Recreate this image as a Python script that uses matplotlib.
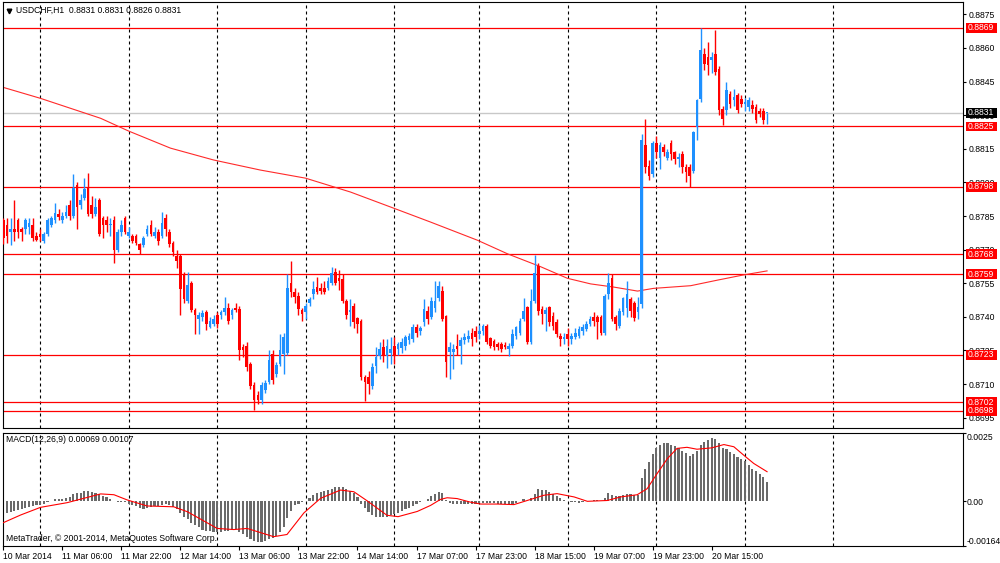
import matplotlib
matplotlib.use("Agg")
import matplotlib.pyplot as plt
import matplotlib.transforms as mtransforms
from matplotlib.patches import Rectangle
import numpy as np

plt.rcParams['font.family'] = ['Liberation Sans', 'DejaVu Sans']

# ------------------------------------------------------------------ #
#  Data (USDCHF H1)                          #
# ------------------------------------------------------------------ #

bar_open = [
    0.8783, 0.8781, 0.8778, 0.8779, 0.8783, 0.8779, 0.8779, 0.8780, 0.8781, 0.8776,
    0.8777, 0.8774, 0.8777, 0.8781, 0.8783, 0.8786, 0.8783, 0.8785, 0.8790, 0.8785,
    0.8799, 0.8790, 0.8793, 0.8798, 0.8790, 0.8786, 0.8792, 0.8784, 0.8783, 0.8781,
    0.8783, 0.8770, 0.8778, 0.8784, 0.8776, 0.8776, 0.8776, 0.87725, 0.8772, 0.8777,
    0.8781, 0.8776, 0.8778, 0.8776, 0.8784, 0.8778, 0.8773, 0.8767, 0.8767, 0.8759,
    0.8747, 0.8755, 0.8743, 0.8739, 0.8740, 0.8742, 0.87355, 0.8737, 0.8741, 0.8741,
    0.8742, 0.8744, 0.8741, 0.8744, 0.87435, 0.87266, 0.8727, 0.8719, 0.87096, 0.8705,
    0.8703, 0.87073, 0.8711, 0.87236, 0.87147, 0.8719, 0.87236, 0.8724, 0.8755, 0.8751,
    0.87495, 0.8743, 0.8742, 0.8746, 0.8750, 0.87534, 0.8753, 0.8753, 0.8753, 0.8755,
    0.8760, 0.87575, 0.8757, 0.8747, 0.8742, 0.8745, 0.87395, 0.8738, 0.8713, 0.8713,
    0.8709, 0.8718, 0.87227, 0.87264, 0.87227, 0.8724, 0.8727, 0.87255, 0.8726, 0.8727,
    0.87296, 0.8730, 0.87356, 0.87338, 0.87375, 0.87427, 0.8740, 0.8744, 0.87486, 0.87516,
    0.87405, 0.87242, 0.87242, 0.87272, 0.87272, 0.87295, 0.8730, 0.8733, 0.87338, 0.87324,
    0.87338, 0.8736, 0.87304, 0.87294, 0.8728, 0.8728, 0.87276, 0.87257, 0.87272, 0.87316,
    0.8733, 0.8739, 0.87442, 0.8729, 0.8747, 0.87626, 0.87435, 0.87412, 0.87442, 0.87405,
    0.87375, 0.87316, 0.87301, 0.87323, 0.8730, 0.8731, 0.87316, 0.87335, 0.87346, 0.87368,
    0.87398, 0.87398, 0.87398, 0.8733, 0.8750, 0.87575, 0.87398, 0.8736, 0.8742, 0.8744,
    0.87479, 0.8746, 0.8742, 0.87456, 0.88165, 0.88075, 0.88038, 0.88178, 0.88108, 0.88157,
    0.8811, 0.88178, 0.88135, 0.88105, 0.88127, 0.88068, 0.88068, 0.88053, 0.88247, 0.88374,
    0.88575, 0.8856, 0.88545, 0.88575, 0.88508, 0.88329, 0.88321, 0.88396, 0.88366, 0.88389,
    0.88374, 0.88351, 0.88336, 0.88344, 0.88336, 0.8832, 0.8832, 0.8831,
]

bar_high = [
    0.8784, 0.8784, 0.8784, 0.8792, 0.8784, 0.8780, 0.8784, 0.8784, 0.8784, 0.8778,
    0.8779, 0.8778, 0.8784, 0.8785, 0.8791, 0.8788, 0.8787, 0.8790, 0.8792, 0.88036,
    0.8800, 0.8795, 0.8802, 0.88044, 0.8794, 0.8793, 0.8793, 0.8785, 0.8785, 0.8784,
    0.8785, 0.8779, 0.8783, 0.8785, 0.8780, 0.8777, 0.8777, 0.8773, 0.8776, 0.8781,
    0.8783, 0.8780, 0.8779, 0.8787, 0.8786, 0.8779, 0.8774, 0.8770, 0.8768, 0.8760,
    0.8760, 0.8756, 0.8744, 0.8742, 0.8743, 0.8743, 0.8740, 0.8741, 0.8742, 0.8743,
    0.8749, 0.8746, 0.8744, 0.8746, 0.8745, 0.8728, 0.8729, 0.8720, 0.8711, 0.8707,
    0.8711, 0.8712, 0.8725, 0.8725, 0.8720, 0.87325, 0.8733, 0.8759, 0.8765, 0.8753,
    0.8751, 0.8744, 0.8746, 0.8749, 0.8756, 0.8758, 0.8755, 0.8756, 0.8758, 0.87624,
    0.8762, 0.8761, 0.8759, 0.8748, 0.8748, 0.8746, 0.8740, 0.8739, 0.8714, 0.8716,
    0.87196, 0.87264, 0.87286, 0.8730, 0.8730, 0.8731, 0.8731, 0.8729, 0.87305, 0.8732,
    0.8733, 0.8737, 0.8737, 0.8736, 0.87479, 0.8745, 0.8749, 0.8756, 0.8756, 0.87538,
    0.8741, 0.8729, 0.8728, 0.87324, 0.8731, 0.8733, 0.8734, 0.8735, 0.8736, 0.87365,
    0.8737, 0.8737, 0.8731, 0.8730, 0.8729, 0.8729, 0.8729, 0.87285, 0.87346, 0.8736,
    0.87393, 0.87486, 0.8745, 0.87523, 0.87678, 0.8764, 0.8745, 0.87445, 0.8745, 0.8742,
    0.8739, 0.8733, 0.8733, 0.8735, 0.8733, 0.8735, 0.8736, 0.8737, 0.8738, 0.87405,
    0.8742, 0.8741, 0.8741, 0.8750, 0.87597, 0.8759, 0.8741, 0.8744, 0.8749, 0.8756,
    0.8749, 0.8747, 0.8749, 0.88217, 0.88284, 0.8810, 0.88185, 0.88209, 0.8818, 0.8817,
    0.8815, 0.8819, 0.8814, 0.8813, 0.8814, 0.8808, 0.8808, 0.8823, 0.8837, 0.88687,
    0.8860, 0.88627, 0.8858, 0.8868, 0.8852, 0.8834, 0.88448, 0.8841, 0.88418, 0.8840,
    0.8839, 0.88375, 0.8838, 0.88366, 0.8835, 0.88333, 0.88333, 0.8831,
]

bar_low = [
    0.87725, 0.8773, 0.8772, 0.8774, 0.8775, 0.8774, 0.8777, 0.8777, 0.8774, 0.8774,
    0.8774, 0.8773, 0.8776, 0.8780, 0.8782, 0.8783, 0.8782, 0.8784, 0.8783, 0.8784,
    0.8779, 0.8788, 0.8792, 0.8785, 0.8784, 0.8785, 0.8776, 0.8775, 0.8778, 0.8776,
    0.8764, 0.8769, 0.8776, 0.8777, 0.8775, 0.8773, 0.8772, 0.8768, 0.8771, 0.8776,
    0.8776, 0.8775, 0.8772, 0.8775, 0.8776, 0.8771, 0.8767, 0.8762, 0.8741, 0.8746,
    0.8746, 0.8742, 0.87325, 0.87325, 0.8738, 0.8734, 0.8735, 0.8736, 0.8735, 0.8739,
    0.8741, 0.8737, 0.8739, 0.8742, 0.87207, 0.8722, 0.8716, 0.8708, 0.86984, 0.8701,
    0.8701, 0.8706, 0.8710, 0.8710, 0.8713, 0.8718, 0.87147, 0.8723, 0.8749, 0.8746,
    0.8741, 0.8738, 0.8739, 0.8745, 0.8748, 0.8750, 0.8750, 0.8750, 0.8752, 0.8754,
    0.8754, 0.8752, 0.8746, 0.8739, 0.8736, 0.8735, 0.8733, 0.8712, 0.87026, 0.87057,
    0.8708, 0.8715, 0.8721, 0.8720, 0.8717, 0.8719, 0.8719, 0.8723, 0.8724, 0.8725,
    0.8728, 0.8729, 0.8731, 0.8732, 0.8736, 0.8737, 0.8739, 0.8742, 0.8747, 0.8738,
    0.8713, 0.87124, 0.87168, 0.8723, 0.8719, 0.8728, 0.8729, 0.8727, 0.8729, 0.8730,
    0.8732, 0.8728, 0.8726, 0.8725, 0.8725, 0.87245, 0.87255, 0.87224, 0.8726, 0.8730,
    0.8732, 0.8738, 0.8728, 0.8728, 0.8746, 0.8741, 0.8737, 0.87338, 0.8736, 0.8734,
    0.8731, 0.8727, 0.8728, 0.8727, 0.8728, 0.8730, 0.87305, 0.8732, 0.87335, 0.8736,
    0.8736, 0.8730, 0.8732, 0.8732, 0.8748, 0.8738, 0.8734, 0.8735, 0.8741, 0.8740,
    0.8740, 0.8738, 0.8739, 0.8744, 0.8804, 0.8801, 0.88025, 0.8811, 0.8806, 0.8812,
    0.8810, 0.8810, 0.8808, 0.8807, 0.8804, 0.8800, 0.87978, 0.8804, 0.8819, 0.8836,
    0.8850, 0.88478, 0.8849, 0.8848, 0.8830, 0.88254, 0.8830, 0.8833, 0.8834, 0.8831,
    0.88335, 0.8832, 0.8832, 0.8831, 0.88265, 0.8829, 0.8826, 0.8826,
]

bar_close = [
    0.8775, 0.8776, 0.8779, 0.8778, 0.8778, 0.8778, 0.8783, 0.8782, 0.8775, 0.87745,
    0.87755, 0.8777, 0.8783, 0.8784, 0.87865, 0.87845, 0.8785, 0.8787, 0.8785, 0.87977,
    0.8789, 0.8792, 0.8797, 0.8786, 0.8786, 0.8789, 0.8777, 0.8781, 0.8781, 0.87815,
    0.8770, 0.8778, 0.8781, 0.8778, 0.8778, 0.8774, 0.8773, 0.8770, 0.8775, 0.8779,
    0.8777, 0.8778, 0.8774, 0.8782, 0.8779, 0.87725, 0.8769, 0.8765, 0.87525, 0.8748,
    0.8754, 0.8743, 0.8741, 0.8741, 0.87415, 0.8737, 0.8738, 0.8739, 0.8737, 0.8742,
    0.8744, 0.8738, 0.8743, 0.8743, 0.8725, 0.8725, 0.87177, 0.8709, 0.8703, 0.8703,
    0.87096, 0.87103, 0.87207, 0.8712, 0.87184, 0.8725, 0.8731, 0.8753, 0.8751, 0.8749,
    0.87436, 0.87414, 0.8745, 0.8748, 0.87523, 0.87512, 0.87515, 0.8751, 0.8756, 0.87597,
    0.8755, 0.8756, 0.8747, 0.8741, 0.8743, 0.87375, 0.8737, 0.8713, 0.8711, 0.8710,
    0.87175, 0.8722, 0.87257, 0.87227, 0.8727, 0.87255, 0.87227, 0.87277, 0.8729, 0.8731,
    0.87316, 0.87353, 0.8733, 0.8735, 0.87435, 0.8739, 0.8747, 0.8747, 0.87538, 0.8739,
    0.87198, 0.87264, 0.87257, 0.87257, 0.87295, 0.8731, 0.87316, 0.8730, 0.8731, 0.87338,
    0.8736, 0.87286, 0.87272, 0.87264, 0.87264, 0.87257, 0.87264, 0.87272, 0.87323, 0.87353,
    0.8738, 0.87427, 0.87286, 0.8747, 0.87597, 0.87427, 0.87412, 0.8743, 0.87375, 0.8736,
    0.87323, 0.87301, 0.87308, 0.87301, 0.87316, 0.8733, 0.87346, 0.87353, 0.87368, 0.8739,
    0.87383, 0.87375, 0.8733, 0.87493, 0.8755, 0.8739, 0.87368, 0.87427, 0.87486, 0.8750,
    0.87427, 0.87395, 0.87445, 0.88187, 0.88068, 0.8803, 0.88178, 0.88135, 0.88165, 0.88135,
    0.88135, 0.88127, 0.88105, 0.88112, 0.88068, 0.88045, 0.8803, 0.88224, 0.88366, 0.8859,
    0.8853, 0.88523, 0.8856, 0.88493, 0.88321, 0.88284, 0.88411, 0.88351, 0.8838, 0.88321,
    0.88351, 0.88358, 0.88366, 0.88329, 0.88277, 0.88306, 0.88277, 0.8831,
]

# moving average, read as points (bar index, price)
ma_idx = [0, 10.1, 26.4, 34, 45.3, 57, 69.7, 81.9, 94.1, 105.8, 115.8, 128.5,
          136.7, 145.6, 152.9, 159.2, 165.4, 171.9, 176.2, 186.3, 193.6, 200.6, 207]
ma_val = [0.88424, 0.88375, 0.88286, 0.88229, 0.88153, 0.8810, 0.88055, 0.88019,
          0.87957, 0.87885, 0.87823, 0.87742, 0.87681, 0.87624, 0.87572, 0.87547,
          0.87533, 0.87515, 0.87527, 0.87539, 0.87564, 0.87587, 0.87605]

# MACD(12,26,9) main values, one per bar
macd_main = [
    -0.00049, -0.00043, -0.00039, -0.00035, -0.00033, -0.00029, -0.00024, -0.00021, -0.00018, -0.00016,
    -0.00013, -0.00009, -0.00004, 0.00001, 0.00006, 0.00009, 0.00009, 0.00011, 0.00016, 0.00024,
    0.00028, 0.00031, 0.00035, 0.00037, 0.00033, 0.00029, 0.00024, 0.00018, 0.00013, 0.00009,
    -0.00001, -0.00005, -0.00005, -0.00005, -0.00009, -0.00013, -0.00018, -0.00027, -0.0003, -0.00027,
    -0.00021, -0.00018, -0.00018, -0.00013, -0.00012, -0.00016, -0.00021, -0.0003, -0.00045, -0.00057,
    -0.00067, -0.00079, -0.00089, -0.00096, -0.00104, -0.00109, -0.00111, -0.00112, -0.00113, -0.00112,
    -0.0011, -0.00109, -0.00105, -0.00101, -0.00113, -0.00121, -0.00131, -0.00139, -0.00145, -0.00148,
    -0.00148, -0.00145, -0.00138, -0.00133, -0.00126, -0.00113, -0.00096, -0.00063, -0.00035, -0.00016,
    -0.00009, -0.00002, 0.00001, 0.00012, 0.00022, 0.00028, 0.00033, 0.00037, 0.0004, 0.00045,
    0.0005, 0.00052, 0.0005, 0.00045, 0.00038, 0.00028, 0.00016, -0.00009, -0.00027, -0.00039,
    -0.0005, -0.00057, -0.0006, -0.0006, -0.00058, -0.00052, -0.00046, -0.00042, -0.00038, -0.0003,
    -0.00026, -0.00018, -0.0001, -0.00005, 0.00001, 0.00009, 0.00018, 0.00027, 0.00033, 0.00029,
    0.00002, -0.00006, -0.00009, -0.0001, -0.00011, -0.00011, -0.00012, -0.0001, -0.00009, -0.00007,
    -0.00006, -0.00006, -0.00007, -0.00007, -0.00009, -0.0001, -0.00011, -0.00011, -0.00009, -0.00006,
    0.0, 0.00006, 0.00001, 0.00011, 0.00026, 0.00043, 0.0004, 0.00039, 0.00033, 0.00027,
    0.00018, 0.00011, 0.00005, 0.0, -0.00004, -0.00005, -0.00006, -0.00005, -0.00001, 0.00001,
    0.00004, 0.00004, 0.00001, 0.00011, 0.00028, 0.00023, 0.0002, 0.0002, 0.00022, 0.00024,
    0.00024, 0.00022, 0.00021, 0.00084, 0.00116, 0.00143, 0.0017, 0.00194, 0.00206, 0.0021,
    0.0021, 0.00206, 0.00199, 0.00192, 0.00184, 0.00174, 0.00165, 0.0017, 0.00182, 0.00206,
    0.00216, 0.00223, 0.00231, 0.00228, 0.0021, 0.00195, 0.00189, 0.00179, 0.00171, 0.00161,
    0.00153, 0.00145, 0.00131, 0.00118, 0.00109, 0.00099, 0.00087, 0.00069,
]

# MACD signal line, read as points (bar index, value)
sig_idx = [0, 4.7, 10.1, 17.3, 26.4, 30, 33.6, 39, 46.2, 49.9, 58, 62.5, 66.1, 73.3,
           76.9, 81.5, 86, 91.4, 95, 98.6, 104, 107, 112.2, 115.8, 118.5, 120.3, 123,
           126.6, 129.4, 133.9, 138.4, 142, 146.5, 150.1, 154.7, 158.3, 163.7, 167.3,
           171.8, 174.5, 177.2, 180, 182.6, 185.3, 188, 192, 195.3, 198, 200.7, 203.4, 207]
sig_val = [-0.00079, -0.00051, -0.00023, -0.00006, 0.00026, 0.00023, 0.00004, -0.00018,
           -0.00021, -0.00039, -0.001, -0.00104, -0.001, -0.0013, -0.00122, -0.00043,
           0.0001, 0.0004, 0.00034, 0.00001, -0.00052, -0.00057, -0.00038, -0.00016,
           0.00006, 0.00012, 0.00009, -0.00004, -0.00011, -0.00011, -0.00013, 0.00002,
           0.00021, 0.00027, 0.00015, -0.00001, 0.00002, 0.00015, 0.00023, 0.00045,
           0.001, 0.00155, 0.00192, 0.00196, 0.00189, 0.00194, 0.00206, 0.00198,
           0.00167, 0.00137, 0.00107]

levels = [0.8869, 0.8825, 0.8798, 0.8768, 0.8759, 0.8723, 0.8702, 0.8698]
bid = 0.8831
price_ticks = [0.8695, 0.8710, 0.8725, 0.8740, 0.8755, 0.8770, 0.8785, 0.8800,
               0.8815, 0.8830, 0.8845, 0.8860, 0.8875]
day_bars = [10, 34, 58, 82, 106, 129, 153, 177, 201, 225]
label_bars = [0, 16, 32, 48, 64, 80, 96, 112, 128, 144, 160, 176, 192]
time_labels = ["10 Mar 2014", "11 Mar 06:00", "11 Mar 22:00", "12 Mar 14:00",
               "13 Mar 06:00", "13 Mar 22:00", "14 Mar 14:00", "17 Mar 07:00",
               "17 Mar 23:00", "18 Mar 15:00", "19 Mar 07:00", "19 Mar 23:00",
               "20 Mar 15:00"]

# ------------------------------------------------------------------ #
#  Layout                                                              #
# ------------------------------------------------------------------ #

W, H = 1000, 563
FS = 6.2
BULL, BEAR = "#1E90FF", "#FF0000"
DASH = (0, (2.7, 2.7))

fig = plt.figure(figsize=(W / 100, H / 100), dpi=100)


def px_box(x0, y0, x1, y1):
    # pixel box (top-left origin) -> figure fraction rect
    return [x0 / W, 1 - y1 / H, (x1 - x0) / W, (y1 - y0) / H]


ax = fig.add_axes(px_box(2.5, 2, 963, 428))
axm = fig.add_axes(px_box(2.5, 432.5, 963, 546))

XLIM = (-0.2, 260.1)

# ------------------------------------------------------------------ #
#  Price panel                                                         #
# ------------------------------------------------------------------ #

o = np.array(bar_open)
h = np.array(bar_high)
l = np.array(bar_low)
c = np.array(bar_close)
x = np.arange(len(c))
cols = np.where(c >= o, BULL, BEAR)

for b in day_bars:
    ax.axvline(b, color="black", lw=0.8, ls=DASH, zorder=1)

ax.axhline(bid, color="#C8C8C8", lw=1.0, zorder=1.2)
for lvl in levels:
    ax.axhline(lvl, color="#FF0000", lw=0.9, zorder=1.5)

ax.plot(ma_idx, ma_val, color="#FF2A2A", lw=0.8, zorder=2)

ax.vlines(x, l, h, colors=cols, lw=1.0, zorder=3)
ax.bar(x, np.maximum(np.abs(c - o), 0.00003), bottom=np.minimum(o, c),
       width=0.72, color=cols, linewidth=0, zorder=3)

ax.set_xlim(*XLIM)
ax.set_ylim(0.86904, 0.88805)
ax.set_xticks([])
ax.yaxis.tick_right()
ax.set_yticks(price_ticks)
ax.set_yticklabels([f"{t:.4f}" for t in price_ticks])
ax.tick_params(axis="y", length=2.5, width=0.8, pad=1.5, labelsize=FS)

# price tags on the right axis
trans = mtransforms.blended_transform_factory(ax.transAxes, ax.transData)
for lvl, fc in [(v, "#FF0000") for v in levels] + [(bid, "black")]:
    ax.add_patch(Rectangle((1.0029, lvl - 0.000215), 0.0326, 0.00043, transform=trans,
                           fc=fc, ec="none", clip_on=False, zorder=5))
    ax.text(1.0046, lvl, f"{lvl:.4f}", transform=trans, color="white", fontsize=FS,
            va="center", ha="left", zorder=6, clip_on=False)

ax.plot([0.0068], [0.980], marker="v", ms=3.3, color="black", transform=ax.transAxes,
        clip_on=False)
ax.text(0.014, 0.980, "USDCHF,H1  0.8831 0.8831 0.8826 0.8831", transform=ax.transAxes,
        fontsize=FS, va="center", ha="left")

# ------------------------------------------------------------------ #
#  MACD panel                                                          #
# ------------------------------------------------------------------ #

for b in day_bars:
    axm.axvline(b, color="black", lw=0.8, ls=DASH, zorder=1)

axm.bar(x, macd_main, width=0.58, color="#6A6A6A", linewidth=0, zorder=2)
axm.plot(sig_idx, sig_val, color="#FF0000", lw=0.8, zorder=3)

axm.set_xlim(*XLIM)
axm.set_ylim(-0.00164, 0.0025)
axm.yaxis.tick_right()
axm.set_yticks([-0.00164, 0.0, 0.0025])
axm.set_yticklabels(["-0.00164", "0.00", "0.0025"])
ylabels = axm.get_yticklabels()
ylabels[0].set_va("bottom")
ylabels[2].set_va("top")
axm.tick_params(axis="y", length=2.0, width=0.8, pad=0.8, labelsize=FS)

axm.set_xticks(label_bars)
axm.set_xticklabels(time_labels, ha="left")
axm.tick_params(axis="x", length=3, width=0.8, pad=1.5, labelsize=FS)

axm.text(0.0036, 0.934, "MACD(12,26,9) 0.00069 0.00107", transform=axm.transAxes,
         fontsize=FS, va="center", ha="left")
axm.text(0.0036, 0.068, "MetaTrader, \u00a9 2001-2014, MetaQuotes Software Corp.",
         transform=axm.transAxes, fontsize=FS, va="center", ha="left")

for a in (ax, axm):
    for s in a.spines.values():
        s.set_color("black")
        s.set_linewidth(0.8)

fig.savefig("out.png", dpi=100)
